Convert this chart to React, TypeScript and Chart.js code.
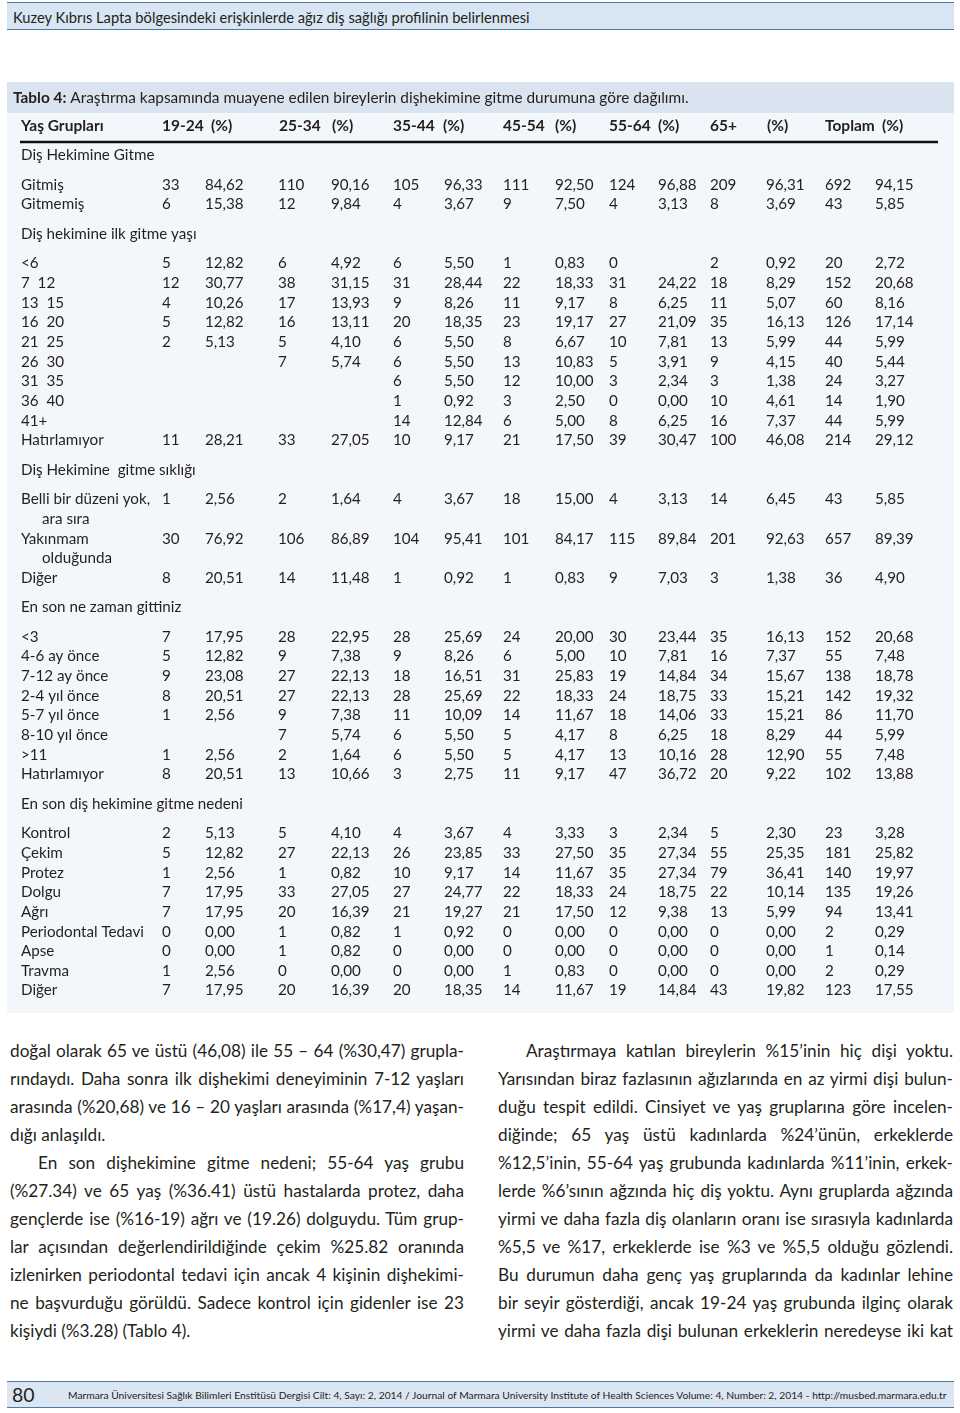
import React, { useEffect, useRef } from "react";
import { Chart, registerables } from "chart.js";
Chart.register(...registerables);

// ---------- DATA ----------
const runningHead = "Kuzey Kıbrıs Lapta bölgesindeki erişkinlerde ağız diş sağlığı profilinin belirlenmesi";
const tableTitleBold = "Tablo 4:";
const tableTitleRest = " Araştırma kapsamında muayene edilen bireylerin dişhekimine gitme durumuna göre dağılımı.";
const headerLabels = ["Yaş Grupları", "19-24", "(%)", "25-34", "(%)", "35-44", "(%)", "45-54", "(%)", "55-64", "(%)", "65+", "(%)", "Toplam", "(%)"];

const sectionTitles = [
  "Diş Hekimine Gitme",
  "Diş hekimine ilk gitme yaşı",
  "Diş Hekimine  gitme sıklığı",
  "En son ne zaman gittiniz",
  "En son diş hekimine gitme nedeni",
];

const gitmeLabels = [["Gitmiş"], ["Gitmemiş"]];
const gitmeValues = [
  ["33", "84,62", "110", "90,16", "105", "96,33", "111", "92,50", "124", "96,88", "209", "96,31", "692", "94,15"],
  ["6", "15,38", "12", "9,84", "4", "3,67", "9", "7,50", "4", "3,13", "8", "3,69", "43", "5,85"],
];

const ilkYasLabels = [["<6"], ["7  12"], ["13  15"], ["16  20"], ["21  25"], ["26  30"], ["31  35"], ["36  40"], ["41+"], ["Hatırlamıyor"]];
const ilkYasValues = [
  ["5", "12,82", "6", "4,92", "6", "5,50", "1", "0,83", "0", "", "2", "0,92", "20", "2,72"],
  ["12", "30,77", "38", "31,15", "31", "28,44", "22", "18,33", "31", "24,22", "18", "8,29", "152", "20,68"],
  ["4", "10,26", "17", "13,93", "9", "8,26", "11", "9,17", "8", "6,25", "11", "5,07", "60", "8,16"],
  ["5", "12,82", "16", "13,11", "20", "18,35", "23", "19,17", "27", "21,09", "35", "16,13", "126", "17,14"],
  ["2", "5,13", "5", "4,10", "6", "5,50", "8", "6,67", "10", "7,81", "13", "5,99", "44", "5,99"],
  ["", "", "7", "5,74", "6", "5,50", "13", "10,83", "5", "3,91", "9", "4,15", "40", "5,44"],
  ["", "", "", "", "6", "5,50", "12", "10,00", "3", "2,34", "3", "1,38", "24", "3,27"],
  ["", "", "", "", "1", "0,92", "3", "2,50", "0", "0,00", "10", "4,61", "14", "1,90"],
  ["", "", "", "", "14", "12,84", "6", "5,00", "8", "6,25", "16", "7,37", "44", "5,99"],
  ["11", "28,21", "33", "27,05", "10", "9,17", "21", "17,50", "39", "30,47", "100", "46,08", "214", "29,12"],
];

const siklikLabels = [["Belli bir düzeni yok,", "ara sıra"], ["Yakınmam", "olduğunda"], ["Diğer"]];
const siklikValues = [
  ["1", "2,56", "2", "1,64", "4", "3,67", "18", "15,00", "4", "3,13", "14", "6,45", "43", "5,85"],
  ["30", "76,92", "106", "86,89", "104", "95,41", "101", "84,17", "115", "89,84", "201", "92,63", "657", "89,39"],
  ["8", "20,51", "14", "11,48", "1", "0,92", "1", "0,83", "9", "7,03", "3", "1,38", "36", "4,90"],
];

const zamanLabels = [["<3"], ["4-6 ay önce"], ["7-12 ay önce"], ["2-4 yıl önce"], ["5-7 yıl önce"], ["8-10 yıl önce"], [">11"], ["Hatırlamıyor"]];
const zamanValues = [
  ["7", "17,95", "28", "22,95", "28", "25,69", "24", "20,00", "30", "23,44", "35", "16,13", "152", "20,68"],
  ["5", "12,82", "9", "7,38", "9", "8,26", "6", "5,00", "10", "7,81", "16", "7,37", "55", "7,48"],
  ["9", "23,08", "27", "22,13", "18", "16,51", "31", "25,83", "19", "14,84", "34", "15,67", "138", "18,78"],
  ["8", "20,51", "27", "22,13", "28", "25,69", "22", "18,33", "24", "18,75", "33", "15,21", "142", "19,32"],
  ["1", "2,56", "9", "7,38", "11", "10,09", "14", "11,67", "18", "14,06", "33", "15,21", "86", "11,70"],
  ["", "", "7", "5,74", "6", "5,50", "5", "4,17", "8", "6,25", "18", "8,29", "44", "5,99"],
  ["1", "2,56", "2", "1,64", "6", "5,50", "5", "4,17", "13", "10,16", "28", "12,90", "55", "7,48"],
  ["8", "20,51", "13", "10,66", "3", "2,75", "11", "9,17", "47", "36,72", "20", "9,22", "102", "13,88"],
];

const nedenLabels = [["Kontrol"], ["Çekim"], ["Protez"], ["Dolgu"], ["Ağrı"], ["Periodontal Tedavi"], ["Apse"], ["Travma"], ["Diğer"]];
const nedenValues = [
  ["2", "5,13", "5", "4,10", "4", "3,67", "4", "3,33", "3", "2,34", "5", "2,30", "23", "3,28"],
  ["5", "12,82", "27", "22,13", "26", "23,85", "33", "27,50", "35", "27,34", "55", "25,35", "181", "25,82"],
  ["1", "2,56", "1", "0,82", "10", "9,17", "14", "11,67", "35", "27,34", "79", "36,41", "140", "19,97"],
  ["7", "17,95", "33", "27,05", "27", "24,77", "22", "18,33", "24", "18,75", "22", "10,14", "135", "19,26"],
  ["7", "17,95", "20", "16,39", "21", "19,27", "21", "17,50", "12", "9,38", "13", "5,99", "94", "13,41"],
  ["0", "0,00", "1", "0,82", "1", "0,92", "0", "0,00", "0", "0,00", "0", "0,00", "2", "0,29"],
  ["0", "0,00", "1", "0,82", "0", "0,00", "0", "0,00", "0", "0,00", "0", "0,00", "1", "0,14"],
  ["1", "2,56", "0", "0,00", "0", "0,00", "1", "0,83", "0", "0,00", "0", "0,00", "2", "0,29"],
  ["7", "17,95", "20", "16,39", "20", "18,35", "14", "11,67", "19", "14,84", "43", "19,82", "123", "17,55"],
];

const leftParagraphLines = [
  "doğal olarak 65 ve üstü (46,08) ile 55 – 64 (%30,47) grupla-",
  "rındaydı. Daha sonra ilk dişhekimi deneyiminin 7-12 yaşları",
  "arasında (%20,68) ve 16 – 20 yaşları arasında (%17,4) yaşan-",
  "dığı anlaşıldı.",
  "En son dişhekimine gitme nedeni; 55-64 yaş grubu",
  "(%27.34) ve 65 yaş (%36.41) üstü hastalarda protez, daha",
  "gençlerde ise (%16-19) ağrı ve (19.26) dolguydu. Tüm grup-",
  "lar açısından değerlendirildiğinde çekim %25.82 oranında",
  "izlenirken periodontal tedavi için ancak 4 kişinin dişhekimi-",
  "ne başvurduğu görüldü. Sadece kontrol için gidenler ise 23",
  "kişiydi (%3.28) (Tablo 4).",
];
const rightParagraphLines = [
  "Araştırmaya katılan bireylerin %15’inin hiç dişi yoktu.",
  "Yarısından biraz fazlasının ağızlarında en az yirmi dişi bulun-",
  "duğu tespit edildi. Cinsiyet ve yaş gruplarına göre incelen-",
  "diğinde; 65 yaş üstü kadınlarda %24’ünün, erkeklerde",
  "%12,5’inin, 55-64 yaş grubunda kadınlarda %11’inin, erkek-",
  "lerde %6’sının ağzında hiç diş yoktu. Aynı gruplarda ağzında",
  "yirmi ve daha fazla diş olanların oranı ise sırasıyla kadınlarda",
  "%5,5 ve %17, erkeklerde ise  %3 ve %5,5 olduğu gözlendi.",
  "Bu durumun daha genç yaş gruplarında da kadınlar lehine",
  "bir seyir gösterdiği, ancak 19-24 yaş grubunda ilginç olarak",
  "yirmi ve daha fazla dişi bulunan erkeklerin neredeyse iki kat",
];
const pageNumber = "80";
const footerText = "Marmara Üniversitesi Sağlık Bilimleri Enstitüsü Dergisi Cilt: 4, Sayı: 2, 2014 / Journal of Marmara University Institute of Health Sciences Volume: 4, Number: 2, 2014 - http://musbed.marmara.edu.tr";

// ---------- LAYOUT / STYLE ----------
const FONT = "Lato, 'Open Sans', sans-serif";
const TEXT = "#231f20";
const sections = [
  { title: sectionTitles[0], labels: gitmeLabels, values: gitmeValues },
  { title: sectionTitles[1], labels: ilkYasLabels, values: ilkYasValues },
  { title: sectionTitles[2], labels: siklikLabels, values: siklikValues },
  { title: sectionTitles[3], labels: zamanLabels, values: zamanValues },
  { title: sectionTitles[4], labels: nedenLabels, values: nedenValues },
];
// column anchor positions (page x) for the x scale
const headerColX = [21, 162, 211, 279, 332, 393, 443, 503, 555, 609, 658, 710, 767, 825, 882];
const cellColX = [162, 205, 278, 331, 393, 444, 503, 555, 609, 658, 710, 766, 825, 875];
const LABEL_X = 21;
const CONT_X = 42;

const TABLE_LEFT = 7, TABLE_TOP = 82, TABLE_W = 947, TABLE_H = 931;
const ROW_PX = 19.65;
const HEADER_Y = 126;

function buildRows() {
  const items: any[] = [];
  let u = 0;
  sections.forEach((s) => {
    u += 1.5;
    items.push({ kind: "section", text: s.title, u });
    u += 1.5;
    s.labels.forEach((lab, i) => {
      items.push({ kind: "row", text: lab[0], values: s.values[i], u });
      for (let k = 1; k < lab.length; k++) {
        u += 1;
        items.push({ kind: "cont", text: lab[k], u });
      }
      u += 1;
    });
    u -= 1;
  });
  return items;
}

const tablePlugin = {
  id: "tableText",
  beforeDraw(chart: any) {
    const { ctx } = chart;
    const y = chart.scales.y;
    ctx.save();
    ctx.fillStyle = "#f3f6fa";
    ctx.fillRect(0, 0, chart.width, chart.height);
    ctx.fillStyle = "#d9e4f0";
    ctx.fillRect(0, 0, chart.width, y.getPixelForValue((113 - HEADER_Y) / ROW_PX));
    ctx.restore();
  },
  afterDraw(chart: any) {
    const { ctx } = chart;
    const x = chart.scales.x, y = chart.scales.y;
    ctx.save();
    ctx.fillStyle = TEXT;
    ctx.textBaseline = "middle";
    ctx.textAlign = "left";
    // title
    const ty = y.getPixelForValue((98 - HEADER_Y) / ROW_PX);
    ctx.font = `bold 15.4px ${FONT}`;
    ctx.fillText(tableTitleBold, x.getPixelForValue(13), ty);
    const bw = ctx.measureText(tableTitleBold).width;
    ctx.font = `15.4px ${FONT}`;
    ctx.fillText(tableTitleRest, x.getPixelForValue(13) + bw, ty);
    // header
    ctx.font = `bold 15.5px ${FONT}`;
    headerLabels.forEach((h, i) => ctx.fillText(h, x.getPixelForValue(headerColX[i]), y.getPixelForValue(0)));
    // rule
    ctx.strokeStyle = "#111";
    ctx.lineWidth = 2.5;
    ctx.beginPath();
    const ry = y.getPixelForValue((142 - HEADER_Y) / ROW_PX);
    ctx.moveTo(x.getPixelForValue(20), ry);
    ctx.lineTo(x.getPixelForValue(938), ry);
    ctx.stroke();
    // body
    ctx.font = `15.2px ${FONT}`;
    buildRows().forEach((it) => {
      const py = y.getPixelForValue(it.u);
      ctx.fillText(it.text, x.getPixelForValue(it.kind === "cont" ? CONT_X : LABEL_X), py);
      if (it.kind === "row") {
        it.values.forEach((v: string, j: number) => {
          if (v) ctx.fillText(v, x.getPixelForValue(cellColX[j]), py);
        });
      }
    });
    ctx.restore();
  },
};

function TableChart() {
  const ref = useRef<HTMLCanvasElement>(null);
  useEffect(() => {
    if (!ref.current) return;
    const chart = new Chart(ref.current, {
      type: "scatter",
      data: { datasets: [] },
      options: {
        animation: false,
        responsive: false,
        devicePixelRatio: 1,
        layout: { padding: 0 },
        plugins: { legend: { display: false }, tooltip: { enabled: false } },
        events: [],
        scales: {
          x: { type: "linear", display: false, min: TABLE_LEFT, max: TABLE_LEFT + TABLE_W },
          y: {
            type: "linear",
            display: false,
            reverse: true,
            min: (TABLE_TOP - HEADER_Y) / ROW_PX,
            max: (TABLE_TOP + TABLE_H - HEADER_Y) / ROW_PX,
          },
        },
      },
      plugins: [tablePlugin],
    });
    return () => chart.destroy();
  }, []);
  return (
    <canvas
      ref={ref}
      width={TABLE_W}
      height={TABLE_H}
      style={{ position: "absolute", left: TABLE_LEFT, top: TABLE_TOP, width: TABLE_W, height: TABLE_H }}
    />
  );
}

function ParaLine({ text, x, w, y, indent, last }: any) {
  return (
    <div
      style={{
        position: "absolute",
        left: x + (indent || 0),
        top: y - 14,
        width: w - (indent || 0),
        height: 28,
        lineHeight: "28px",
        fontSize: 17.2,
        whiteSpace: "nowrap",
        textAlign: last ? "left" : "justify",
        textAlignLast: last ? "left" : "justify",
      } as any}
    >
      {text}
    </div>
  );
}

export default function App() {
  return (
    <div
      style={{
        position: "absolute",
        left: 0,
        top: 0,
        width: 960,
        height: 1413,
        background: "#fff",
        fontFamily: FONT,
        color: TEXT,
        overflow: "hidden",
      }}
    >
      <div
        style={{
          position: "absolute",
          left: 7,
          top: 2,
          width: 947,
          height: 26,
          background: "#d8e5f2",
          borderTop: "1.5px solid #4d79a4",
          borderBottom: "1.5px solid #4d79a4",
        }}
      />
      <div style={{ position: "absolute", left: 13, top: 7, fontSize: 14.7, lineHeight: "20px", whiteSpace: "nowrap" }}>
        {runningHead}
      </div>
      <TableChart />
      {leftParagraphLines.map((t, i) => (
        <ParaLine key={"l" + i} text={t} x={10} w={454} y={1051 + 28 * i} indent={i === 4 ? 28 : 0} last={i === 3 || i === 10} />
      ))}
      {rightParagraphLines.map((t, i) => (
        <ParaLine key={"r" + i} text={t} x={498} w={455} y={1051 + 28 * i} indent={i === 0 ? 28 : 0} last={false} />
      ))}
      <div
        style={{
          position: "absolute",
          left: 7,
          top: 1381,
          width: 947,
          height: 25,
          background: "#dbe6f2",
          borderTop: "1.5px solid #4d79a4",
          borderBottom: "1.5px solid #4d79a4",
        }}
      />
      <div style={{ position: "absolute", left: 12, top: 1382, fontSize: 19.5, lineHeight: "26px" }}>{pageNumber}</div>
      <div style={{ position: "absolute", left: 68, top: 1387, fontSize: 10.28, lineHeight: "16px", whiteSpace: "nowrap" }}>
        {footerText}
      </div>
    </div>
  );
}
